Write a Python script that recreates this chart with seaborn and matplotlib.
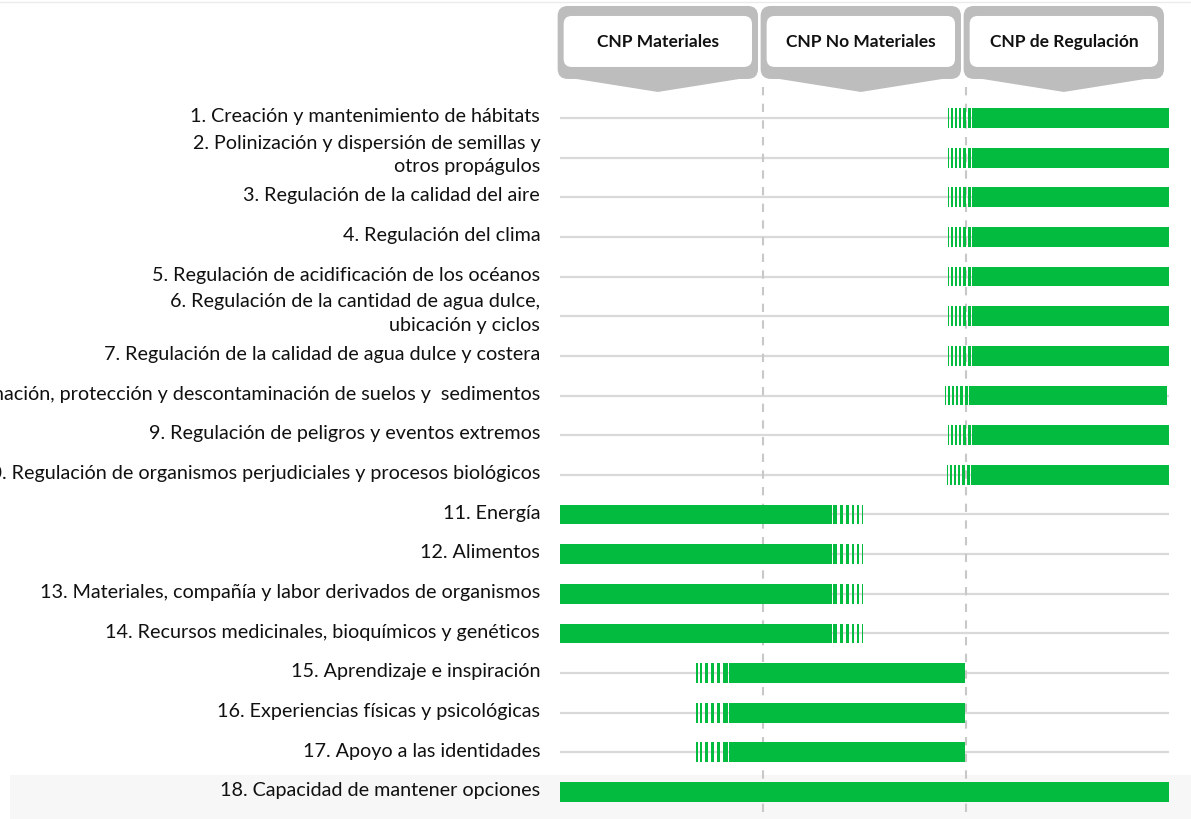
import numpy as np
import pandas as pd
import matplotlib
matplotlib.use('Agg')
import matplotlib.pyplot as plt
from matplotlib.patches import FancyBboxPatch, Polygon, Rectangle
import seaborn as sns

# Contribuciones de la naturaleza a las personas (CNP)
labels = [
    '1. Creación y mantenimiento de hábitats',
    '2. Polinización y dispersión de semillas y\notros propágulos',
    '3. Regulación de la calidad del aire',
    '4. Regulación del clima',
    '5. Regulación de acidificación de los océanos',
    '6. Regulación de la cantidad de agua dulce,\nubicación y ciclos',
    '7. Regulación de la calidad de agua dulce y costera',
    '8. Formación, protección y descontaminación de suelos y  sedimentos',
    '9. Regulación de peligros y eventos extremos',
    '10. Regulación de organismos perjudiciales y procesos biológicos',
    '11. Energía',
    '12. Alimentos',
    '13. Materiales, compañía y labor derivados de organismos',
    '14. Recursos medicinales, bioquímicos y genéticos',
    '15. Aprendizaje e inspiración',
    '16. Experiencias físicas y psicológicas',
    '17. Apoyo a las identidades',
    '18. Capacidad de mantener opciones',
]

# columnas: 0-1 Materiales, 1-2 No Materiales, 2-3 Regulación
columns = ['CNP Materiales', 'CNP No Materiales', 'CNP de Regulación']

# tramo sólido de cada barra
bar_start = [2.03, 2.03, 2.03, 2.03, 2.03, 2.03, 2.03, 2.015, 2.03, 2.025,
             0.0, 0.0, 0.0, 0.0, 0.833, 0.833, 0.833, 0.0]
bar_end = [3.0, 3.0, 3.0, 3.0, 3.0, 3.0, 3.0, 2.99, 3.0, 3.0,
           1.34, 1.34, 1.34, 1.34, 1.995, 1.995, 1.995, 3.0]

# tramo rayado (transición) de cada barra
fade_side = ['left', 'left', 'left', 'left', 'left', 'left', 'left', 'left', 'left', 'left',
             'right', 'right', 'right', 'right', 'left', 'left', 'left', 'none']
fade_len = [0.12, 0.12, 0.12, 0.12, 0.12, 0.12, 0.12, 0.12, 0.12, 0.12,
            0.155, 0.155, 0.155, 0.155, 0.165, 0.165, 0.165, 0.0]

GREEN = '#03bb3e'
TAB_GRAY = '#bdbdbd'
BAR_H = 0.5
# rayas del degradado, como fracción de la longitud desde el borde sólido
STRIPES = [(0.03, 0.17), (0.26, 0.36), (0.45, 0.54), (0.63, 0.71), (0.80, 0.86), (0.94, 0.98)]

sns.set_style('white')
plt.rcParams['font.family'] = ['Lato', 'DejaVu Sans']

fig = plt.figure(figsize=(11.91, 8.2), dpi=100)
ax = fig.add_axes([0, 0, 1, 1])

df = pd.DataFrame({'label': labels,
                   'inicio': bar_start,
                   'ancho': np.array(bar_end) - np.array(bar_start)})

sns.barplot(data=df, x='ancho', y='label', orient='h', color=GREEN, saturation=1,
            width=BAR_H, errorbar=None, left=df['inicio'].values, linewidth=0,
            ax=ax, zorder=2)

XLIM = (-2.759, 3.108)
YLIM = (17.68, -3.0)
ax.set_xlim(*XLIM)
ax.set_ylim(*YLIM)
ax.axis('off')

rows = np.arange(len(labels))

# rayas de transición
for i in rows:
    L = fade_len[i]
    for a, b in STRIPES:
        if fade_side[i] == 'left':
            ax.barh(i, (b - a) * L, left=bar_start[i] - b * L, height=BAR_H,
                    color=GREEN, linewidth=0, zorder=2)
        elif fade_side[i] == 'right':
            ax.barh(i, (b - a) * L, left=bar_end[i] + a * L, height=BAR_H,
                    color=GREEN, linewidth=0, zorder=2)

# líneas base y separadores de columnas
ax.hlines(rows, 0, 3, color='#d9d9d9', lw=1.6, zorder=0.5)
ax.vlines([1, 2], -0.78, YLIM[0], colors='#c8c8c8', linestyles=(0, (4, 4)), lw=1.5, zorder=0.6)

# banda de fondo de la fila 18
ax.add_patch(Rectangle((-2.709, 16.57), XLIM[1] + 2.709, YLIM[0] - 16.57,
                       color='#f7f7f7', lw=0, zorder=0))
ax.axhline(-2.93, color='#ececec', lw=1, zorder=0)

# etiquetas de filas
for i, lab in enumerate(labels):
    dy = -0.09 if '\n' in lab else -0.06
    ax.text(-0.098, i + dy, lab, ha='right', va='center', fontsize=14.2,
            color='#111111', linespacing=1.45)

# pestañas de encabezado
px_x = fig.get_figwidth() * fig.dpi / (XLIM[1] - XLIM[0])
px_y = fig.get_figheight() * fig.dpi / abs(YLIM[0] - YLIM[1])
aspect = px_x / px_y
to_y = lambda p: (p - 119) / px_y

for i, col in enumerate(columns):
    x0, x1 = i - 0.012, i + 0.975
    xc = (x0 + x1) / 2
    ax.add_patch(FancyBboxPatch((x0, to_y(7)), x1 - x0, to_y(80) - to_y(7),
                                boxstyle='round,pad=0,rounding_size=0.05',
                                mutation_aspect=aspect, fc=TAB_GRAY, ec='none', zorder=3))
    ax.add_patch(Polygon([(x0 + 6 / px_x, to_y(78)), (x1 - 6 / px_x, to_y(78)), (xc, to_y(93))],
                         closed=True, fc=TAB_GRAY, ec='none', zorder=3))
    ax.add_patch(FancyBboxPatch((x0 + 6 / px_x, to_y(17)), x1 - x0 - 12 / px_x, to_y(68) - to_y(17),
                                boxstyle='round,pad=0,rounding_size=0.04',
                                mutation_aspect=aspect, fc='white', ec='none', zorder=4))
    ax.text(xc, to_y(42), col, ha='center', va='center', fontsize=12.5,
            fontweight='bold', color='#111111', zorder=5)

plt.savefig('out.png', dpi=100)
